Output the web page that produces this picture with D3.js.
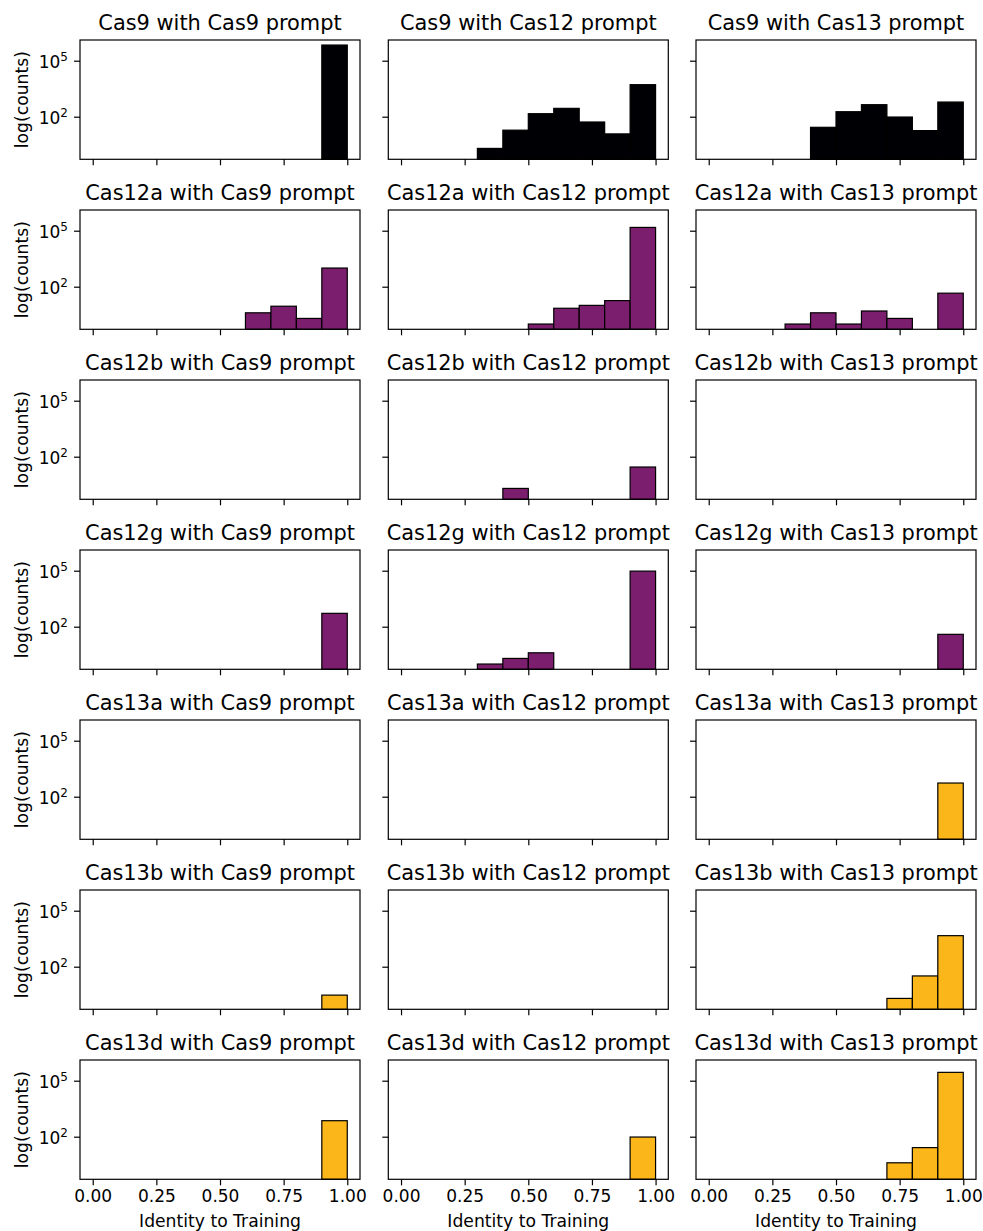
<!DOCTYPE html>
<html>
<head>
<meta charset="utf-8">
<script src="https://cdn.jsdelivr.net/npm/d3@7"></script>
<style>
  body { margin: 0; background: #fff; }
  svg { display: block; font-family: "DejaVu Sans", sans-serif; }
</style>
</head>
<body>
<svg id="chart" width="983" height="1231"></svg>
<script>
// rows = generated protein, columns = prompt family
const proteins = ['Cas9', 'Cas12a', 'Cas12b', 'Cas12g', 'Cas13a', 'Cas13b', 'Cas13d'];
const prompts = ['Cas9', 'Cas12', 'Cas13'];
const binEdges = [0, 0.1, 0.2, 0.3, 0.4, 0.5, 0.6, 0.7, 0.8, 0.9, 1.0];
const xTicks = [0, 0.25, 0.5, 0.75, 1];
const yTicks = [1e2, 1e5];

// counts per bin (10 bins of width 0.1), one list per prompt
const cas9Counts = [
  [0, 0, 0, 0, 0, 0, 0, 0, 0, 690000],
  [0, 0, 0, 2, 19, 145, 280, 52, 12, 5200],
  [0, 0, 0, 0, 27, 185, 440, 96, 18, 610]
];
const cas12aCounts = [
  [0, 0, 0, 0, 0, 0, 4, 9, 2, 1000],
  [0, 0, 0, 0, 0, 1, 7, 10, 18, 150000],
  [0, 0, 0, 1, 4, 1, 5, 2, 0, 45]
];
const cas12bCounts = [
  [0, 0, 0, 0, 0, 0, 0, 0, 0, 0],
  [0, 0, 0, 0, 2, 0, 0, 0, 0, 28],
  [0, 0, 0, 0, 0, 0, 0, 0, 0, 0]
];
const cas12gCounts = [
  [0, 0, 0, 0, 0, 0, 0, 0, 0, 520],
  [0, 0, 0, 1, 2, 4, 0, 0, 0, 95000],
  [0, 0, 0, 0, 0, 0, 0, 0, 0, 39]
];
const cas13aCounts = [
  [0, 0, 0, 0, 0, 0, 0, 0, 0, 0],
  [0, 0, 0, 0, 0, 0, 0, 0, 0, 0],
  [0, 0, 0, 0, 0, 0, 0, 0, 0, 540]
];
const cas13bCounts = [
  [0, 0, 0, 0, 0, 0, 0, 0, 0, 3],
  [0, 0, 0, 0, 0, 0, 0, 0, 0, 0],
  [0, 0, 0, 0, 0, 0, 0, 2, 32, 4600]
];
const cas13dCounts = [
  [0, 0, 0, 0, 0, 0, 0, 0, 0, 720],
  [0, 0, 0, 0, 0, 0, 0, 0, 0, 96],
  [0, 0, 0, 0, 0, 0, 0, 4, 26, 280000]
];
const allCounts = [cas9Counts, cas12aCounts, cas12bCounts, cas12gCounts, cas13aCounts, cas13bCounts, cas13dCounts];

// styling
const rowColors = ['#000004', '#7b1e6d', '#7b1e6d', '#7b1e6d', '#fbb61a', '#fbb61a', '#fbb61a'];
const colLeft = [80, 388.3, 696];
const firstTop = 40;
const rowStep = 170;
const pw = 280;
const ph = 119.3;

const svg = d3.select('#chart');

const x = d3.scaleLinear().domain([-0.05, 1.05]).range([0, pw]);
const y = d3.scaleLog().domain([Math.pow(10, -0.282), Math.pow(10, 6.109)]).range([ph, 0]);

proteins.forEach((prot, r) => {
  prompts.forEach((prompt, c) => {
    const g = svg.append('g')
      .attr('transform', `translate(${colLeft[c]},${firstTop + r * rowStep})`);

    const counts = allCounts[r][c];
    const bins = counts.map((v, i) => ({ x0: binEdges[i], x1: binEdges[i + 1], v: v }))
      .filter(d => d.v > 0);

    g.selectAll('rect.bar')
      .data(bins)
      .enter()
      .append('rect')
      .attr('class', 'bar')
      .attr('x', d => x(d.x0))
      .attr('width', d => x(d.x1) - x(d.x0))
      .attr('y', d => y(d.v))
      .attr('height', d => ph - y(d.v))
      .attr('fill', rowColors[r])
      .attr('stroke', '#000')
      .attr('stroke-width', 1.2);

    // x axis
    const isBottom = r === proteins.length - 1;
    const xAxis = d3.axisBottom(x)
      .tickValues(xTicks)
      .tickSize(6)
      .tickSizeOuter(0)
      .tickPadding(5)
      .tickFormat(isBottom ? d3.format('.2f') : () => '');
    const xg = g.append('g').attr('transform', `translate(0,${ph})`).call(xAxis);
    xg.select('.domain').remove();
    xg.selectAll('line').attr('stroke', '#000').attr('stroke-width', 1.2);
    xg.selectAll('text')
      .attr('font-size', 17)
      .attr('font-family', '"DejaVu Sans", sans-serif')
      .attr('fill', '#000');

    // y axis
    const yAxis = d3.axisLeft(y)
      .tickValues(yTicks)
      .tickSize(6)
      .tickSizeOuter(0)
      .tickPadding(6)
      .tickFormat(() => '');
    const yg = g.append('g').call(yAxis);
    yg.select('.domain').remove();
    yg.selectAll('line').attr('stroke', '#000').attr('stroke-width', 1.2);

    if (c === 0) {
      yg.selectAll('.tick text').each(function(d) {
        const t = d3.select(this)
          .attr('font-size', 17)
          .attr('font-family', '"DejaVu Sans", sans-serif')
          .attr('fill', '#000')
          .attr('text-anchor', 'end')
          .attr('dy', null)
          .attr('y', 7);
        t.text(null);
        t.append('tspan').text('10');
        t.append('tspan')
          .attr('font-size', 12)
          .attr('dy', -7)
          .text(Math.round(Math.log10(d)));
      });

      g.append('text')
        .attr('transform', `translate(-52.5,${ph / 2}) rotate(-90)`)
        .attr('text-anchor', 'middle')
        .attr('font-size', 17.2)
        .text('log(counts)');
    }

    if (isBottom) {
      g.append('text')
        .attr('x', pw / 2)
        .attr('y', ph + 47.5)
        .attr('text-anchor', 'middle')
        .attr('font-size', 17.2)
        .text('Identity to Training');
    }

    // frame
    g.append('rect')
      .attr('width', pw)
      .attr('height', ph)
      .attr('fill', 'none')
      .attr('stroke', '#000')
      .attr('stroke-width', 1.2);

    g.append('text')
      .attr('x', pw / 2)
      .attr('y', -10.5)
      .attr('text-anchor', 'middle')
      .attr('font-size', 20.9)
      .text(`${prot} with ${prompt} prompt`);
  });
});
</script>
</body>
</html>
